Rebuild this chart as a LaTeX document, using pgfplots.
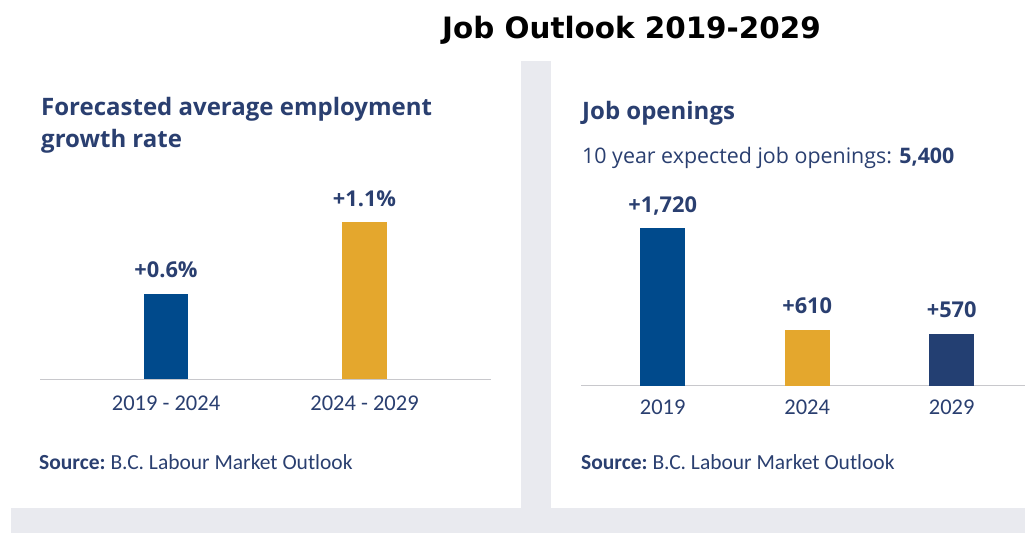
\documentclass[border=0pt]{standalone}
\usepackage{pgfplots}
\pgfplotsset{compat=1.18}
\usepackage{fontspec}
\setmainfont{Open Sans}
\newfontfamily\headfont{Open Sans}
\newfontfamily\condfont{Carlito}
\newfontfamily\titlefont{DejaVu Sans}
\definecolor{barblue}{HTML}{004A8C}
\definecolor{baryellow}{HTML}{E4A72D}
\definecolor{barnavy}{HTML}{233F72}
\definecolor{txtnavy}{HTML}{2A3F70}
\definecolor{bggray}{HTML}{E9EAEF}
\definecolor{linegray}{HTML}{C8C8CC}
\begin{document}
\begin{tikzpicture}[x=1pt,y=1pt]
\useasboundingbox (0,0) rectangle (1025,533);
\fill[white] (0,0) rectangle (1025,533);
\fill[bggray] (11,0) rectangle (1025,25);
\fill[bggray] (521,25) rectangle (551,472);
% texts
\node[anchor=base west,inner sep=0] at (442,494.7) {\titlefont\bfseries\fontsize{29.4}{34}\selectfont Job Outlook 2019-2029};
\node[anchor=base west,inner sep=0,text=txtnavy] at (41,417) {\headfont\bfseries\fontsize{24}{30}\selectfont Forecasted average employment};
\node[anchor=base west,inner sep=0,text=txtnavy] at (41,385) {\headfont\bfseries\fontsize{24}{30}\selectfont growth rate};
\node[anchor=base west,inner sep=0,text=txtnavy] at (582,413.7) {\headfont\bfseries\fontsize{24}{30}\selectfont Job openings};
\node[anchor=base west,inner sep=0,text=txtnavy] at (582,369) {\headfont\fontsize{21.4}{26}\selectfont 10 year expected job openings: \textbf{5,400}};
\node[anchor=base west,inner sep=0,text=txtnavy] at (39,64) {\condfont\fontsize{21.5}{26}\selectfont\textbf{Source:}\hspace{-1.5pt} B.C. Labour Market Outlook};
\node[anchor=base west,inner sep=0,text=txtnavy] at (581,64) {\condfont\fontsize{21.5}{26}\selectfont\textbf{Source:}\hspace{-1.5pt} B.C. Labour Market Outlook};
% left chart
\begin{axis}[
  at={(40pt,153.7pt)}, anchor=south west,
  scale only axis, width=451pt, height=214pt,
  xmin=-0.6348, xmax=1.6373, ymin=0, ymax=1.5,
  ybar, bar width=44.5pt,
  hide y axis,
  axis x line*=bottom,
  x axis line style={-, draw=linegray, line width=1.5pt},
  xtick={0,1}, xticklabels={2019 - 2024, 2024 - 2029},
  major tick length=0pt,
  xticklabel style={anchor=base, yshift=-31.7pt, text=txtnavy, font=\condfont\fontsize{22.5}{28}\selectfont},
  point meta=explicit symbolic,
  nodes near coords,
  every node near coord/.append style={anchor=base, yshift=16pt, text=txtnavy, font=\headfont\bfseries\fontsize{21.8}{26}\selectfont},
  clip=false,
]
\addplot[fill=barblue, draw=none, bar shift=0pt] coordinates {(0,0.6) [+0.6\%]};
\addplot[fill=baryellow, draw=none, bar shift=0pt] coordinates {(1,1.1) [+1.1\%]};
\end{axis}
% right chart
\begin{axis}[
  at={(581pt,147.3pt)}, anchor=south west,
  scale only axis, width=444pt, height=183pt,
  xmin=-0.565, xmax=2.507, ymin=0, ymax=2000,
  ybar, bar width=45pt,
  hide y axis,
  axis x line*=bottom,
  x axis line style={-, draw=linegray, line width=1.5pt},
  xtick={0,1,2}, xticklabels={2019, 2024, 2029},
  major tick length=0pt,
  xticklabel style={anchor=base, yshift=-29.3pt, text=txtnavy, font=\condfont\fontsize{22.5}{28}\selectfont},
  point meta=explicit symbolic,
  nodes near coords,
  every node near coord/.append style={anchor=base, yshift=16pt, text=txtnavy, font=\headfont\bfseries\fontsize{21.8}{26}\selectfont},
  clip=false,
]
\addplot[fill=barblue, draw=none, bar shift=0pt] coordinates {(0,1720) [+1,720]};
\addplot[fill=baryellow, draw=none, bar shift=0pt] coordinates {(1,610) [+610]};
\addplot[fill=barnavy, draw=none, bar shift=0pt] coordinates {(2,570) [+570]};
\end{axis}
\end{tikzpicture}
\end{document}
